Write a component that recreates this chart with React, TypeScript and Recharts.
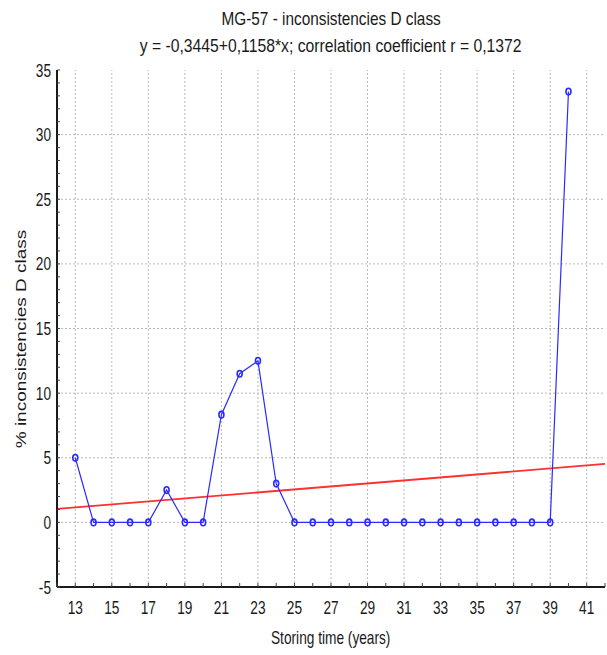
import React from 'react';
import { LineChart, Line, XAxis, YAxis, ReferenceLine } from 'recharts';

// storing time (years) and % inconsistencies
const years = [13, 14, 15, 16, 17, 18, 19, 20, 21, 22, 23, 24, 25, 26, 27, 28, 29, 30, 31, 32, 33, 34, 35, 36, 37, 38, 39, 40];
const inconsistencies = [5, 0, 0, 0, 0, 2.5, 0, 0, 8.33, 11.5, 12.5, 3, 0, 0, 0, 0, 0, 0, 0, 0, 0, 0, 0, 0, 0, 0, 0, 33.33];

// regression from the subtitle
const intercept = -0.3445;
const slope = 0.1158;

const xDomain = [12, 42];
const yDomain = [-5, 35];
const xMinorTicks = [12, 13, 14, 15, 16, 17, 18, 19, 20, 21, 22, 23, 24, 25, 26, 27, 28, 29, 30, 31, 32, 33, 34, 35, 36, 37, 38, 39, 40, 41, 42];
const xLabelTicks = [13, 15, 17, 19, 21, 23, 25, 27, 29, 31, 33, 35, 37, 39, 41];
const yMinorTicks = [-5, -4, -3, -2, -1, 0, 1, 2, 3, 4, 5, 6, 7, 8, 9, 10, 11, 12, 13, 14, 15, 16, 17, 18, 19, 20, 21, 22, 23, 24, 25, 26, 27, 28, 29, 30, 31, 32, 33, 34, 35];
const yLabelTicks = [-5, 0, 5, 10, 15, 20, 25, 30, 35];

const data = years.map((x, i) => ({ x, y: inconsistencies[i] }));

// the source picture is squeezed horizontally, so text is drawn condensed
const SANS = '"Liberation Sans", Arial, sans-serif';
const TEXT = '#1a1a1a';
const BLUE = '#2b2bff';
const GRID = '#b8b8b8';

const BottomTick = (props: any) => {
  const { x, y, payload } = props;
  const v = payload.value;
  return (
    <g>
      <line x1={x} x2={x} y1={y} y2={y - 4} stroke="#444" strokeWidth={1} />
      {xLabelTicks.includes(v) && (
        <text
          transform={`translate(${x},${y + 27}) scale(0.74,1)`}
          textAnchor="middle"
          fontFamily={SANS}
          fontSize={18.5}
          fill={TEXT}
        >
          {v}
        </text>
      )}
    </g>
  );
};

const TopTick = (props: any) => {
  const { x, y } = props;
  return <line x1={x} x2={x} y1={y} y2={y + 4} stroke="#555" strokeWidth={1} />;
};

const LeftTick = (props: any) => {
  const { x, y, payload } = props;
  const v = payload.value;
  return (
    <g>
      <line x1={x} x2={x + 3} y1={y} y2={y} stroke="#444" strokeWidth={1} />
      {yLabelTicks.includes(v) && (
        <text
          transform={`translate(${x - 6},${y + 6.5}) scale(0.74,1)`}
          textAnchor="end"
          fontFamily={SANS}
          fontSize={18.5}
          fill={TEXT}
        >
          {v}
        </text>
      )}
    </g>
  );
};

const RightTick = (props: any) => {
  const { x, y } = props;
  return <line x1={x} x2={x - 3} y1={y} y2={y} stroke="#555" strokeWidth={1} />;
};

const RingDot = (props: any) => {
  const { cx, cy, index } = props;
  return (
    <ellipse key={`d${index}`} cx={cx} cy={cy} rx={2.5} ry={3.3} fill="none" stroke={BLUE} strokeWidth={1.6} />
  );
};

const condensed = (scale: number): React.CSSProperties => ({
  display: 'inline-block',
  transform: `scaleX(${scale})`,
  transformOrigin: 'center',
  whiteSpace: 'nowrap'
});

export default function App() {
  return (
    <div style={{ position: 'absolute', left: 0, top: 0, width: 607, height: 655, background: '#fff' }}>
      <div
        style={{
          position: 'absolute', left: 57, width: 548, top: 5, textAlign: 'center',
          fontFamily: SANS, fontSize: 18.5, lineHeight: '27px', color: TEXT
        }}
      >
        <div><span style={condensed(0.83)}>MG-57 - inconsistencies D class</span></div>
        <div><span style={condensed(0.85)}>y = -0,3445+0,1158*x; correlation coefficient r = 0,1372</span></div>
      </div>
      <div
        style={{
          position: 'absolute', left: 57, width: 548, top: 626, textAlign: 'center',
          fontFamily: SANS, fontSize: 18.5, lineHeight: '24px', color: TEXT
        }}
      >
        <span style={condensed(0.74)}>Storing time (years)</span>
      </div>
      <div
        style={{
          position: 'absolute', left: 21, top: 339,
          transform: 'translate(-50%, -50%) rotate(-90deg) scaleY(0.8)',
          whiteSpace: 'nowrap', fontFamily: SANS, fontSize: 19, color: TEXT
        }}
      >
        % inconsistencies D class
      </div>
      <LineChart width={607} height={655} data={data} margin={{ top: 70, right: 2, bottom: 38, left: 7 }}>
        <XAxis
          dataKey="x"
          type="number"
          domain={xDomain}
          ticks={xMinorTicks}
          interval={0}
          allowDataOverflow
          tickSize={0}
          tickMargin={0}
          tickLine={false}
          height={30}
          axisLine={{ stroke: '#1a1a1a', strokeWidth: 2 }}
          tick={BottomTick}
        />
        <XAxis
          xAxisId="top"
          orientation="top"
          dataKey="x"
          type="number"
          domain={xDomain}
          ticks={xMinorTicks}
          interval={0}
          allowDataOverflow
          tickSize={0}
          tickMargin={0}
          tickLine={false}
          height={0}
          axisLine={{ stroke: '#7a7a7a', strokeWidth: 2 }}
          tick={TopTick}
        />
        <YAxis
          type="number"
          domain={yDomain}
          ticks={yMinorTicks}
          interval={0}
          allowDataOverflow
          tickSize={0}
          tickMargin={0}
          tickLine={false}
          width={50}
          axisLine={{ stroke: '#1a1a1a', strokeWidth: 2 }}
          tick={LeftTick}
        />
        <YAxis
          yAxisId="right"
          orientation="right"
          type="number"
          domain={yDomain}
          ticks={yMinorTicks}
          interval={0}
          allowDataOverflow
          tickSize={0}
          tickMargin={0}
          tickLine={false}
          width={0}
          axisLine={{ stroke: '#8a8a8a', strokeWidth: 2 }}
          tick={RightTick}
        />
        {xLabelTicks.map((v) => (
          <ReferenceLine key={`vx${v}`} x={v} stroke={GRID} strokeDasharray="2 2" strokeWidth={1} />
        ))}
        {yLabelTicks
          .filter((v) => v > yDomain[0] && v < yDomain[1])
          .map((v) => (
            <ReferenceLine key={`hy${v}`} y={v} stroke={GRID} strokeDasharray="2 2" strokeWidth={1} />
          ))}
        <ReferenceLine
          segment={[
            { x: xDomain[0], y: intercept + slope * xDomain[0] },
            { x: xDomain[1], y: intercept + slope * xDomain[1] }
          ]}
          stroke="#ff3030"
          strokeWidth={1.8}
        />
        <Line
          dataKey="y"
          stroke={BLUE}
          strokeWidth={1.2}
          dot={RingDot}
          activeDot={false}
          isAnimationActive={false}
        />
      </LineChart>
    </div>
  );
}
